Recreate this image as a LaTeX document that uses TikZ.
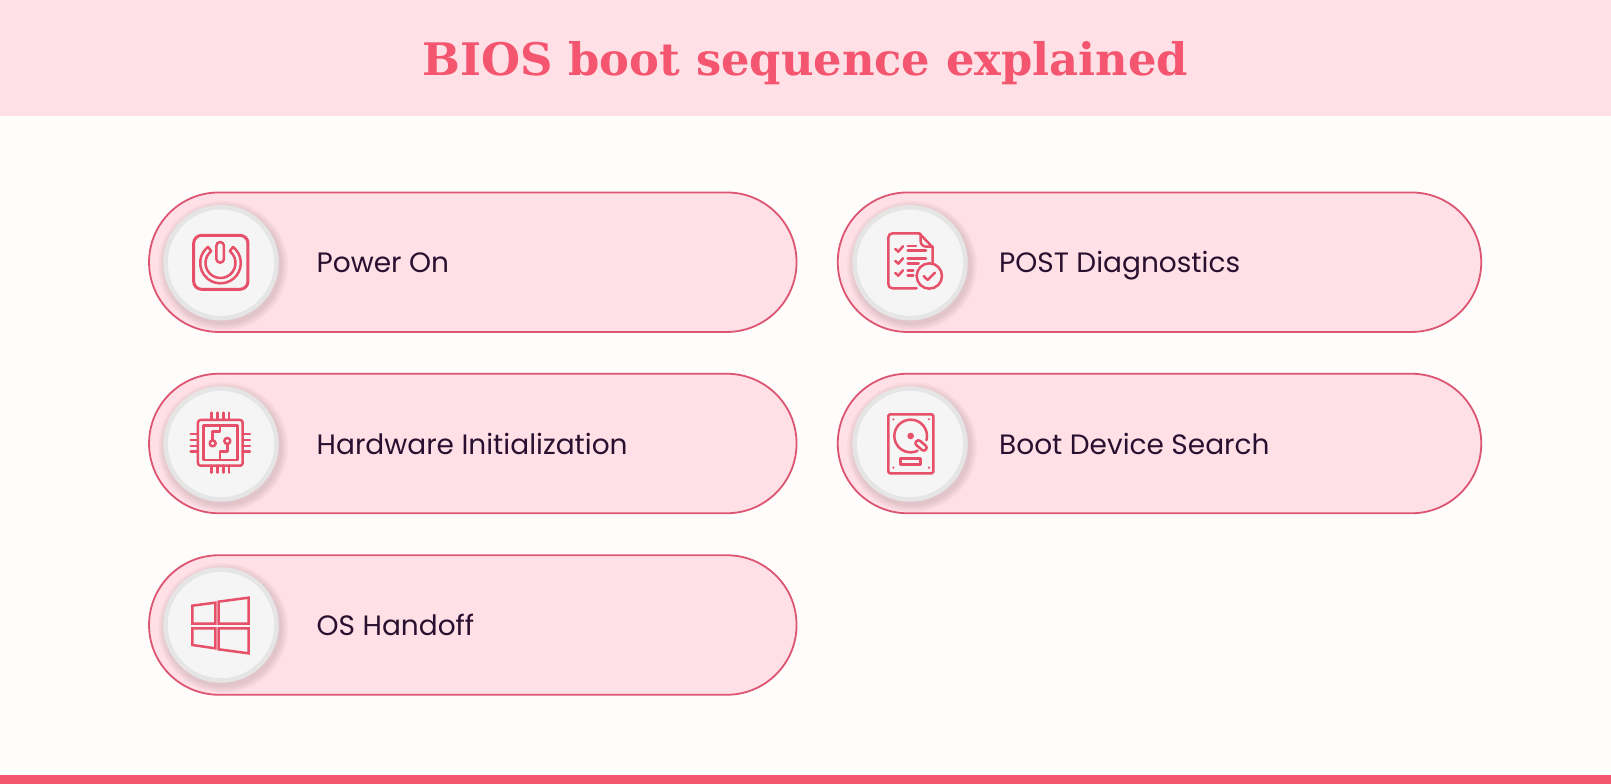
\documentclass[tikz,border=0pt]{standalone}
\usepackage{fontspec}
\setmainfont{Poppins}
\newfontfamily\titlefont{DejaVu Serif}[BoldFont={DejaVu Serif Bold}]
\usetikzlibrary{shapes.misc}
\definecolor{bgc}{HTML}{FFFDFB}
\definecolor{pinkc}{HTML}{FFE0E6}
\definecolor{edgec}{HTML}{DC5572}
\definecolor{redc}{HTML}{F4556F}
\definecolor{iconc}{HTML}{E65069}
\definecolor{inkc}{HTML}{2A1030}
\tikzset{
  pillbox/.style={rounded rectangle,draw=edgec,fill=pinkc,line width=1.8pt,minimum height=139.5pt,inner sep=0pt,outer sep=0pt},
  disc/.style={circle,draw=black!10,fill=black!4,line width=4.5pt,minimum size=111pt,inner sep=0pt},
  lbl/.style={anchor=base west,inner sep=0pt,text=inkc,font=\fontsize{28}{32}\selectfont},
  ico/.style={draw=iconc,line width=2.5pt,line cap=round,line join=round},
  shade/.pic={
    \foreach \r in {65,63.5,62,60.5,59}
      \fill[black,opacity=0.022] (2,3) circle (\r pt);
  }
}
\begin{document}
\begin{tikzpicture}[x=1pt,y=-1pt]
\fill[bgc] (0,0) rectangle (1611,784);
\useasboundingbox (0,0) rectangle (1611,784);
\fill[pinkc] (0,0) rectangle (1611,116);
\fill[redc] (0,775) rectangle (1611,784);
\node[anchor=base,inner sep=0pt,text=redc,font=\titlefont\bfseries\fontsize{44.8}{52}\selectfont] (title) at (805.5,75) {BIOS boot sequence explained};

\node[pillbox,minimum width=647.5pt] (p1) at (472.8,262.2) {};
\node[pillbox,minimum width=643.5pt] (p2) at (1159.5,262.2) {};
\node[pillbox,minimum width=647.5pt] (p3) at (472.8,443.5) {};
\node[pillbox,minimum width=643.5pt] (p4) at (1159.5,443.5) {};
\node[pillbox,minimum width=647.5pt] (p5) at (472.8,625) {};

\pic at (221,262.7) {shade};
\pic at (910,262.7) {shade};
\pic at (221,444) {shade};
\pic at (910,444) {shade};
\pic at (221,625) {shade};

\node[disc] (c1) at (221,262.7) {};
\node[disc] (c2) at (910,262.7) {};
\node[disc] (c3) at (221,444) {};
\node[disc] (c4) at (910,444) {};
\node[disc] (c5) at (221,625) {};

\node[lbl] (t1) at (316.5,272.5) {Power On};
\node[lbl] (t2) at (999,272.5) {POST Diagnostics};
\node[lbl] (t3) at (316.5,454) {Hardware Initialization};
\node[lbl] (t4) at (999,454) {Boot Device Search};
\node[lbl] (t5) at (316.5,635.5) {OS Handoff};

% power icon
\begin{scope}[shift={(140,180)},x=.3333pt,y=-.3333pt]
  \draw[ico,line width=3pt,rounded corners=8pt] (161,166) rectangle (324,328);
  \draw[ico] (241.5,249) ++(-52:61) arc[start angle=-52,end angle=232,radius=61]
     -- ++(52:16) arc[start angle=232,end angle=-52,radius=45] -- cycle;
  \draw[ico,rounded corners=3.8pt] (229,186) rectangle (252,248);
\end{scope}

% checklist icon
\begin{scope}[shift={(820,180)},x=.3333pt,y=-.3333pt]
  \draw[ico] (290,325) -- (218,325) .. controls (210,325) and (205,320) .. (205,312)
     -- (205,173) .. controls (205,165) and (210,160) .. (218,160) -- (298,160) -- (338,202) -- (338,250);
  \draw[ico] (302,162) -- (302,184) .. controls (302,194) and (310,200) .. (320,200) -- (338,200);
  \draw[ico] (226,207) -- (235,215) -- (249,199);
  \draw[ico] (226,243) -- (235,251) -- (249,235);
  \draw[ico] (226,279) -- (235,287) -- (249,271);
  \draw[ico] (263,198) -- (288,198) (263,212) -- (318,212)
             (263,235) -- (318,235) (263,250) -- (296,250)
             (263,271) -- (280,271) (263,287) -- (280,287);
  \draw[ico] (328,288) circle[radius=38];
  \draw[ico] (311,288) -- (323,300) -- (345,278);
\end{scope}

% chip icon
\begin{scope}[shift={(140,360)},x=.3333pt,y=-.3333pt]
  \draw[ico,rounded corners=2.5pt] (174,180) rectangle (308,317);
  \draw[ico] (190,197) rectangle (292,300);
  \foreach \p in {215,232,250,267} {
    \draw[ico] (\p,158) -- (\p,180);
    \draw[ico] (\p,317) -- (\p,338);
  }
  \foreach \p in {222,240,258,275} {
    \draw[ico] (152,\p) -- (174,\p);
    \draw[ico] (308,\p) -- (330,\p);
  }
  \draw[ico] (240,197) -- (240,215) -- (218,215) -- (218,241);
  \draw[ico] (218,250) circle[radius=9];
  \draw[ico] (262,243) circle[radius=9];
  \draw[ico] (262,252) -- (262,274) -- (240,274) -- (240,300);
\end{scope}

% disk icon
\begin{scope}[shift={(820,360)},x=.3333pt,y=-.3333pt]
  \draw[ico,rounded corners=1.5pt] (205,163) rectangle (340,340);
  \draw[ico] (272,228) ++(65:49) arc[start angle=65,end angle=375,radius=49];
  \fill[iconc] (272,228) circle[radius=10];
  \draw[ico,rounded corners=2.5pt] (283,250) -- (295,238) -- (323,262) -- (312,275) -- cycle;
  \draw[ico] (241,296) rectangle (302,314);
  \foreach \a/\b in {220/178,327/178,220/323,327/323} \fill[iconc] (\a,\b) circle[radius=3.5];
\end{scope}

% windows icon
\begin{scope}[shift={(140,535)},x=.3333pt,y=-.3333pt]
  \draw[ico,line cap=butt,line join=miter] (157,212) -- (226,203) -- (226,266) -- (157,266) -- cycle;
  \draw[ico,line cap=butt,line join=miter] (236,200) -- (326,188) -- (326,266) -- (236,266) -- cycle;
  \draw[ico,line cap=butt,line join=miter] (157,280) -- (226,280) -- (226,340) -- (157,330) -- cycle;
  \draw[ico,line cap=butt,line join=miter] (236,280) -- (326,280) -- (326,355) -- (236,343) -- cycle;
\end{scope}
\end{tikzpicture}
\end{document}
